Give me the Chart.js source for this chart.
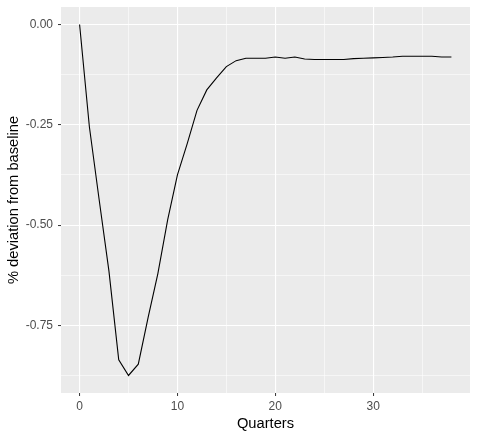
<!DOCTYPE html>
<html>
<head>
<meta charset="utf-8">
<script src="https://cdn.jsdelivr.net/npm/chart.js@4.4.0/dist/chart.umd.min.js"></script>
<style>
  html, body { margin: 0; padding: 0; background: #ffffff; }
  #wrap { width: 478px; height: 439px; position: relative; }
</style>
</head>
<body>
<div id="wrap"><canvas id="irfChart"></canvas></div>
<script>
// --- Data ---
const quarters = [0, 1, 2, 3, 4, 5, 6, 7, 8, 9, 10, 11, 12, 13, 14, 15, 16, 17, 18, 19,
                  20, 21, 22, 23, 24, 25, 26, 27, 28, 29, 30, 31, 32, 33, 34, 35, 36, 37, 38];
const deviation = [0, -0.255, -0.437, -0.615, -0.836, -0.875, -0.847, -0.731, -0.621, -0.487,
                   -0.375, -0.297, -0.214, -0.163, -0.133, -0.105, -0.090, -0.084, -0.084, -0.084,
                   -0.081, -0.084, -0.081, -0.086, -0.087, -0.087, -0.087, -0.087, -0.085, -0.084,
                   -0.083, -0.082, -0.081, -0.079, -0.079, -0.079, -0.079, -0.081, -0.081];

// --- Tick labels / breaks ---
const xMajor = [0, 10, 20, 30];
const xMinor = [5, 15, 25, 35];
const yMajor = [0, -0.25, -0.5, -0.75];
const yMinor = [-0.125, -0.375, -0.625, -0.875];

// ggplot-style 5% expansion of the data range
const expand = (lo, hi) => { const d = (hi - lo) * 0.05; return [lo - d, hi + d]; };
const [xMin, xMax] = expand(Math.min(...quarters), Math.max(...quarters));
const [yMin, yMax] = expand(Math.min(...deviation), Math.max(...deviation));

const isMajor = (list, v) => list.some(m => Math.abs(m - v) < 1e-9);

// grey panel + white page
const panelBg = {
  id: 'panelBg',
  beforeDraw(chart) {
    const { ctx, chartArea: a } = chart;
    ctx.save();
    ctx.fillStyle = '#ffffff';
    ctx.fillRect(0, 0, chart.width, chart.height);
    ctx.fillStyle = '#EBEBEB';
    ctx.fillRect(a.left, a.top, a.right - a.left, a.bottom - a.top);
    ctx.restore();
  }
};

const tickFont = { family: "'Liberation Sans', Arial, sans-serif", size: 12 };
const titleFont = { family: "'Liberation Sans', Arial, sans-serif", size: 14.7 };

const ctx = document.getElementById('irfChart').getContext('2d');
new Chart(ctx, {
  type: 'line',
  data: {
    datasets: [{
      data: quarters.map((q, i) => ({ x: q, y: deviation[i] })),
      borderColor: '#000000',
      borderWidth: 1.1,
      pointRadius: 0,
      tension: 0,
      fill: false
    }]
  },
  options: {
    responsive: true, maintainAspectRatio: false, animation: false,
    layout: { padding: { top: 7, right: 8, left: 0, bottom: 0 } },
    plugins: { legend: { display: false }, tooltip: { enabled: false } },
    scales: {
      x: {
        type: 'linear', min: xMin, max: xMax,
        afterBuildTicks: s => { s.ticks = [...xMajor, ...xMinor].sort((a, b) => a - b).map(v => ({ value: v })); },
        afterFit: s => { s.height = 46; s.paddingLeft = 0; s.paddingRight = 0; },
        border: { display: false },
        grid: {
          color: '#ffffff',
          lineWidth: c => isMajor(xMajor, c.tick.value) ? 1.1 : 0.55,
          tickColor: c => isMajor(xMajor, c.tick.value) ? '#333333' : 'rgba(0,0,0,0)',
          tickLength: 3, tickWidth: 1
        },
        ticks: {
          color: '#4D4D4D', font: tickFont, padding: 3, maxRotation: 0, autoSkip: false,
          callback: v => isMajor(xMajor, v) ? String(v) : ''
        },
        title: { display: true, text: 'Quarters', color: '#000000', font: titleFont, padding: { top: 0, bottom: 6 } }
      },
      y: {
        type: 'linear', min: yMin, max: yMax,
        afterBuildTicks: s => { s.ticks = [...yMajor, ...yMinor].sort((a, b) => a - b).map(v => ({ value: v })); },
        afterFit: s => { s.width = 61; s.paddingTop = 0; s.paddingBottom = 0; },
        border: { display: false },
        grid: {
          color: '#ffffff',
          lineWidth: c => isMajor(yMajor, c.tick.value) ? 1.1 : 0.55,
          tickColor: c => isMajor(yMajor, c.tick.value) ? '#333333' : 'rgba(0,0,0,0)',
          tickLength: 3, tickWidth: 1
        },
        ticks: {
          color: '#4D4D4D', font: tickFont, padding: 5, autoSkip: false,
          callback: v => isMajor(yMajor, v) ? v.toFixed(2) : ''
        },
        title: { display: true, text: '% deviation from baseline', color: '#000000', font: titleFont, padding: { top: 5, bottom: 0 } }
      }
    }
  },
  plugins: [panelBg]
});
</script>
</body>
</html>
